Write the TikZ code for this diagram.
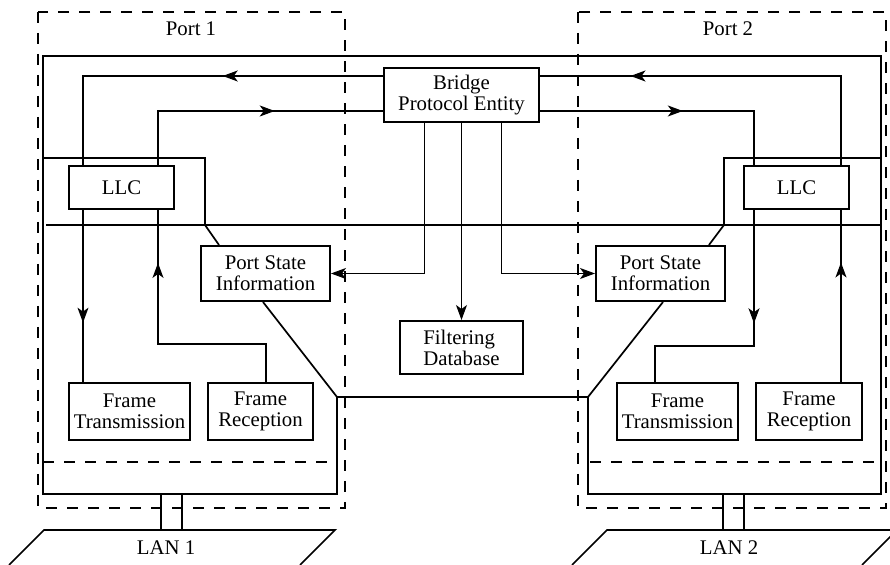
\documentclass[tikz,border=0pt]{standalone}
\usepackage{fontspec}
\setmainfont{Liberation Serif}
\usetikzlibrary{arrows.meta,decorations.markings,calc}
\begin{document}
\begin{tikzpicture}[x=0.5pt,y=-0.5pt,
  every node/.style={font=\fontsize{10.4}{10.6}\selectfont},
  box/.style={draw,line width=1pt,align=center,inner sep=1pt},
  outline/.style={line width=0.85pt},
  conn/.style={line width=0.65pt},
  feed/.style={line width=0.5pt,-{Stealth[length=7.5pt,width=5.5pt,inset=2pt]}},
  dashline/.style={line width=0.6pt,dash pattern=on 5.5pt off 5pt},
  midarrow/.style={postaction={decorate},decoration={markings,mark=at position #1 with {\arrow{Stealth[length=7.5pt,width=5.5pt,inset=2pt]}}}}
]
\useasboundingbox (0,0) rectangle (890,565);
\clip (0,0) rectangle (890,565);

% port frames
\draw[dashline] (38,12) rectangle (345,508);
\draw[dashline] (578,12) rectangle (886,508);
\node (p1) at (191,29) {Port 1};
\node (p2) at (728,29) {Port 2};

% boxes
\node[box,minimum width=77.5pt,minimum height=27pt] (bpe) at (461.5,95) {Bridge\\Protocol Entity};
\node[box,minimum width=52.5pt,minimum height=21.5pt] (llc1) at (121.5,187.5) {LLC};
\node[box,minimum width=52.5pt,minimum height=21.5pt] (llc2) at (796.5,187.5) {LLC};
\node[box,minimum width=64.5pt,minimum height=27.5pt] (psi1) at (265.5,273.5) {Port State\\Information};
\node[box,minimum width=64.5pt,minimum height=27.5pt] (psi2) at (660.5,273.5) {Port State\\Information};
\node[box,minimum width=61.5pt,minimum height=26.5pt,align=left] (fd) at (461.5,347.5) {Filtering\\Database};
\node[box,minimum width=60.5pt,minimum height=28.5pt] (ft1) at (129.5,411.5) {Frame\\Transmission};
\node[box,minimum width=52.5pt,minimum height=28.5pt] (fr1) at (260.5,411.5) {Frame\\Reception};
\node[box,minimum width=60.5pt,minimum height=28.5pt] (ft2) at (677.5,411.5) {Frame\\Transmission};
\node[box,minimum width=53pt,minimum height=28.5pt] (fr2) at (809,411.5) {Frame\\Reception};

% bridge outline
\draw[outline] ([xshift=-1.25pt]psi1.south) -- (337,397) -- (337,494) -- (43,494) -- (43,56)
  -- (881,56) -- (881,494) -- (588,494) -- (588,397) -- ([xshift=1.25pt]psi2.south);
\draw[outline] (337,397) -- (588,397);
\draw[outline] (43,158) -- (205,158) -- (205,225) -- ([xshift=9.5pt]psi1.north west);
\draw[outline] (881,158) -- (724,158) -- (724,225) -- ([xshift=-8.5pt]psi2.north east);
\draw[outline] (46,225) -- (881,225);
\draw[dashline] (43,462) -- (337,462);
\draw[dashline] (590,462) -- (881,462);

% LANs
\draw[outline] (161,494) -- (161,530);
\draw[outline] (182,494) -- (182,530);
\draw[outline] (723,494) -- (723,530);
\draw[outline] (744,494) -- (744,530);
\draw[outline] (9,565) -- (44,530) -- (335,530) -- (300,565);
\draw[outline] (572,565) -- (607,530) -- (897,530) -- (862,565);
\node (lan1) at (166,548) {LAN 1};
\node (lan2) at (729,548) {LAN 2};

% connectors with mid arrows
\draw[conn,midarrow=0.412] ([yshift=9.5pt]bpe.west) -| ([xshift=-19.25pt]llc1.north);
\draw[conn,midarrow=0.612] ([xshift=18.25pt]llc1.north) |- ([yshift=-8pt]bpe.west);
\draw[conn,midarrow=0.768] ([xshift=22.25pt]llc2.north) |- ([yshift=9.5pt]bpe.east);
\draw[conn,midarrow=0.533] ([yshift=-8pt]bpe.east) -| ([xshift=-21.25pt]llc2.north);
\draw[conn,midarrow=0.655] ([xshift=-19.25pt]llc1.south) -- ([xshift=-23.25pt]ft1.north);
\draw[conn,midarrow=0.811] ([xshift=2.75pt]fr1.north) -- ++(0,-38) -| ([xshift=18.25pt]llc1.south);
\draw[conn,midarrow=0.418] ([xshift=-21.25pt]llc2.south) -- ++(0,136) -| ([xshift=-11.25pt]ft2.north);
\draw[conn,midarrow=0.695] ([xshift=16pt]fr2.north) -- ([xshift=22.25pt]llc2.south);

% bridge protocol entity feeds
\draw[feed] ([xshift=-18.75pt]bpe.south) |- (psi1.east);
\draw[feed] (bpe.south) -- (fd.north);
\draw[feed] ([xshift=19.75pt]bpe.south) |- (psi2.west);
\end{tikzpicture}
\end{document}
